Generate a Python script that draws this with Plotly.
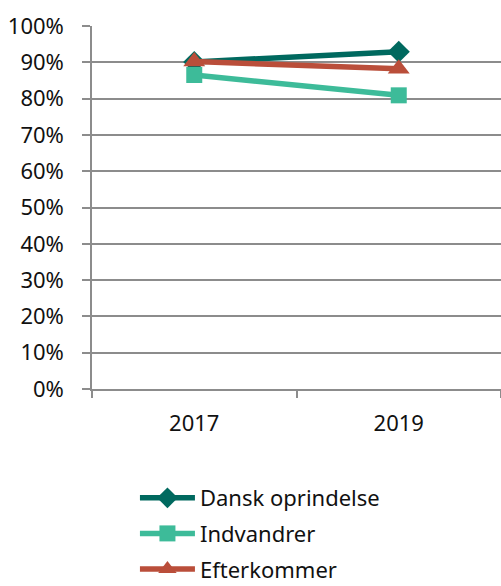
import plotly.graph_objects as go

years = ["2017", "2019"]
dansk = [0.901, 0.929]
indvandrer = [0.865, 0.809]
efterkommer = [0.902, 0.882]

names = ["Dansk oprindelse", "Indvandrer", "Efterkommer"]
colors = ["#00695F", "#3DBB99", "#BA4E3A"]
symbols = ["diamond", "square", "triangle-up"]
sizes = [17, 16, 19]

fig = go.Figure()
for i, vals in enumerate([dansk, indvandrer, efterkommer]):
    fig.add_trace(go.Scatter(
        x=years, y=vals, name=names[i], mode="lines+markers",
        legendgroup=names[i],
        line=dict(color=colors[i], width=5.5),
        marker=dict(symbol=symbols[i], size=sizes[i], color=colors[i]),
    ))

grid = "#8C8C8C"
fig.update_layout(
    width=501, height=586,
    margin=dict(l=92, r=0, t=26, b=197),
    paper_bgcolor="white", plot_bgcolor="white",
    font=dict(family="Noto Sans, Open Sans, sans-serif", size=22, color="#111"),
    legend=dict(orientation="v", x=0.105, xanchor="left",
                yref="container", y=0.186, yanchor="top",
                font=dict(size=22), tracegroupgap=4, itemwidth=55),
    xaxis=dict(type="category", range=[-0.5, 1.5], showgrid=False,
               showline=True, linecolor=grid, linewidth=1.5,
               ticks="outside", tickson="boundaries", ticklen=7, tickcolor=grid,
               tickwidth=1.5, ticklabelstandoff=14),
    yaxis=dict(range=[0, 1], dtick=0.1, tickformat=".0%", showgrid=True,
               gridcolor=grid, gridwidth=1.5, showline=True, linecolor=grid,
               linewidth=1.5, ticks="outside", ticklen=8, tickcolor=grid,
               tickwidth=1.5, zeroline=False, ticklabelstandoff=14),
)

fig.write_html("out.html", config={"displayModeBar": False},
               post_script="document.body.style.margin='0';")
